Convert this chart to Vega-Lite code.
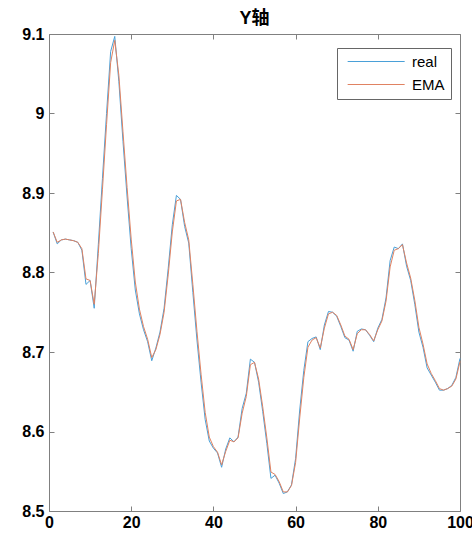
{
  "$schema": "https://vega.github.io/schema/vega-lite/v6.json",
  "width": 411,
  "height": 477,
  "autosize": {"type": "none"},
  "padding": {"left": 49, "top": 34, "right": 12, "bottom": 28},
  "background": "white",
  "title": {"text": "Y轴", "fontSize": 18, "fontWeight": "bold", "font": "Liberation Sans, Noto Sans CJK SC", "anchor": "middle", "offset": -2, "color": "#000"},
  "data": {"values": [
    {"x":1,"real":8.851,"EMA":8.851},{"x":2,"real":8.836,"EMA":8.838},{"x":3,"real":8.841,"EMA":8.841},{"x":4,"real":8.842,"EMA":8.842},{"x":5,"real":8.841,"EMA":8.841},
    {"x":6,"real":8.840,"EMA":8.840},{"x":7,"real":8.838,"EMA":8.838},{"x":8,"real":8.828,"EMA":8.830},{"x":9,"real":8.785,"EMA":8.792},{"x":10,"real":8.790,"EMA":8.790},
    {"x":11,"real":8.755,"EMA":8.760},{"x":12,"real":8.835,"EMA":8.824},{"x":13,"real":8.918,"EMA":8.904},{"x":14,"real":9.000,"EMA":8.986},{"x":15,"real":9.078,"EMA":9.064},
    {"x":16,"real":9.097,"EMA":9.092},{"x":17,"real":9.040,"EMA":9.048},{"x":18,"real":8.965,"EMA":8.977},{"x":19,"real":8.895,"EMA":8.907},{"x":20,"real":8.830,"EMA":8.842},
    {"x":21,"real":8.778,"EMA":8.788},{"x":22,"real":8.748,"EMA":8.754},{"x":23,"real":8.728,"EMA":8.732},{"x":24,"real":8.713,"EMA":8.716},{"x":25,"real":8.689,"EMA":8.693},
    {"x":26,"real":8.705,"EMA":8.703},{"x":27,"real":8.725,"EMA":8.722},{"x":28,"real":8.755,"EMA":8.750},{"x":29,"real":8.805,"EMA":8.797},{"x":30,"real":8.860,"EMA":8.851},
    {"x":31,"real":8.897,"EMA":8.890},{"x":32,"real":8.892,"EMA":8.892},{"x":33,"real":8.858,"EMA":8.863},{"x":34,"real":8.837,"EMA":8.841},{"x":35,"real":8.775,"EMA":8.785},
    {"x":36,"real":8.715,"EMA":8.726},{"x":37,"real":8.662,"EMA":8.672},{"x":38,"real":8.615,"EMA":8.624},{"x":39,"real":8.588,"EMA":8.593},{"x":40,"real":8.579,"EMA":8.581},
    {"x":41,"real":8.573,"EMA":8.574},{"x":42,"real":8.555,"EMA":8.558},{"x":43,"real":8.578,"EMA":8.575},{"x":44,"real":8.592,"EMA":8.589},{"x":45,"real":8.587,"EMA":8.587},
    {"x":46,"real":8.593,"EMA":8.592},{"x":47,"real":8.629,"EMA":8.623},{"x":48,"real":8.648,"EMA":8.644},{"x":49,"real":8.691,"EMA":8.684},{"x":50,"real":8.687,"EMA":8.687},
    {"x":51,"real":8.662,"EMA":8.666},{"x":52,"real":8.625,"EMA":8.631},{"x":53,"real":8.585,"EMA":8.592},{"x":54,"real":8.541,"EMA":8.549},{"x":55,"real":8.545,"EMA":8.546},
    {"x":56,"real":8.535,"EMA":8.537},{"x":57,"real":8.522,"EMA":8.524},{"x":58,"real":8.524,"EMA":8.524},{"x":59,"real":8.533,"EMA":8.532},{"x":60,"real":8.566,"EMA":8.561},
    {"x":61,"real":8.627,"EMA":8.617},{"x":62,"real":8.677,"EMA":8.668},{"x":63,"real":8.713,"EMA":8.706},{"x":64,"real":8.717,"EMA":8.715},{"x":65,"real":8.719,"EMA":8.718},
    {"x":66,"real":8.703,"EMA":8.705},{"x":67,"real":8.734,"EMA":8.730},{"x":68,"real":8.751,"EMA":8.748},{"x":69,"real":8.750,"EMA":8.750},{"x":70,"real":8.745,"EMA":8.746},
    {"x":71,"real":8.732,"EMA":8.734},{"x":72,"real":8.718,"EMA":8.720},{"x":73,"real":8.715,"EMA":8.716},{"x":74,"real":8.701,"EMA":8.703},{"x":75,"real":8.726,"EMA":8.723},
    {"x":76,"real":8.729,"EMA":8.728},{"x":77,"real":8.728,"EMA":8.728},{"x":78,"real":8.721,"EMA":8.722},{"x":79,"real":8.713,"EMA":8.714},{"x":80,"real":8.730,"EMA":8.728},
    {"x":81,"real":8.741,"EMA":8.739},{"x":82,"real":8.768,"EMA":8.764},{"x":83,"real":8.815,"EMA":8.807},{"x":84,"real":8.832,"EMA":8.828},{"x":85,"real":8.830,"EMA":8.830},
    {"x":86,"real":8.836,"EMA":8.835},{"x":87,"real":8.808,"EMA":8.812},{"x":88,"real":8.790,"EMA":8.793},{"x":89,"real":8.760,"EMA":8.765},{"x":90,"real":8.725,"EMA":8.731},
    {"x":91,"real":8.706,"EMA":8.710},{"x":92,"real":8.680,"EMA":8.685},{"x":93,"real":8.671,"EMA":8.673},{"x":94,"real":8.662,"EMA":8.664},{"x":95,"real":8.652,"EMA":8.654},
    {"x":96,"real":8.652,"EMA":8.652},{"x":97,"real":8.654,"EMA":8.654},{"x":98,"real":8.658,"EMA":8.657},{"x":99,"real":8.668,"EMA":8.666},{"x":100,"real":8.692,"EMA":8.688}
  ]},
  "transform": [{"fold": ["real", "EMA"], "as": ["series", "value"]}],
  "config": {
    "view": {"stroke": null},
    "axis": {
      "labelFont": "Liberation Sans",
      "labelFontSize": 16,
      "labelFontWeight": "bold",
      "labelColor": "#000",
      "domainColor": "#808080",
      "tickColor": "#808080",
      "tickSize": -5,
      "grid": false,
      "labelFlush": false,
      "labelOverlap": false,
      "title": null
    }
  },
  "layer": [
    {
      "mark": {"type": "line", "strokeWidth": 1},
      "encoding": {
        "x": {"field": "x", "type": "quantitative", "scale": {"domain": [0, 100], "nice": false, "zero": false},
              "axis": {"orient": "bottom", "values": [0, 20, 40, 60, 80, 100], "labelPadding": 8}},
        "y": {"field": "value", "type": "quantitative", "scale": {"domain": [8.5, 9.1], "nice": false, "zero": false},
              "axis": {"orient": "left", "values": [8.5, 8.6, 8.7, 8.8, 8.9, 9.0, 9.1], "format": "~g", "labelPadding": 10}},
        "color": {"field": "series", "type": "nominal",
                  "scale": {"domain": ["real", "EMA"], "range": ["#4aa0d8", "#e08262"]},
                  "legend": {
                    "title": null, "orient": "none", "legendX": 288, "legendY": 14,
                    "symbolType": "M-1,0H19", "symbolSize": 32.5, "symbolStrokeWidth": 1,
                    "labelOffset": 54, "labelFontSize": 15, "labelFont": "Liberation Sans", "labelColor": "#000",
                    "padding": 6, "rowPadding": 7, "strokeColor": "#666", "fillColor": "white"
                  }}
      }
    },
    {
      "mark": {"type": "line", "strokeOpacity": 0},
      "encoding": {
        "x": {"field": "x", "type": "quantitative", "axis": {"orient": "top", "values": [0, 20, 40, 60, 80, 100], "labels": false}},
        "y": {"field": "value", "type": "quantitative", "axis": {"orient": "right", "values": [8.5, 8.6, 8.7, 8.8, 8.9, 9.0, 9.1], "labels": false}},
        "detail": {"field": "series"}
      }
    }
  ],
  "resolve": {"axis": {"x": "independent", "y": "independent"}}
}
